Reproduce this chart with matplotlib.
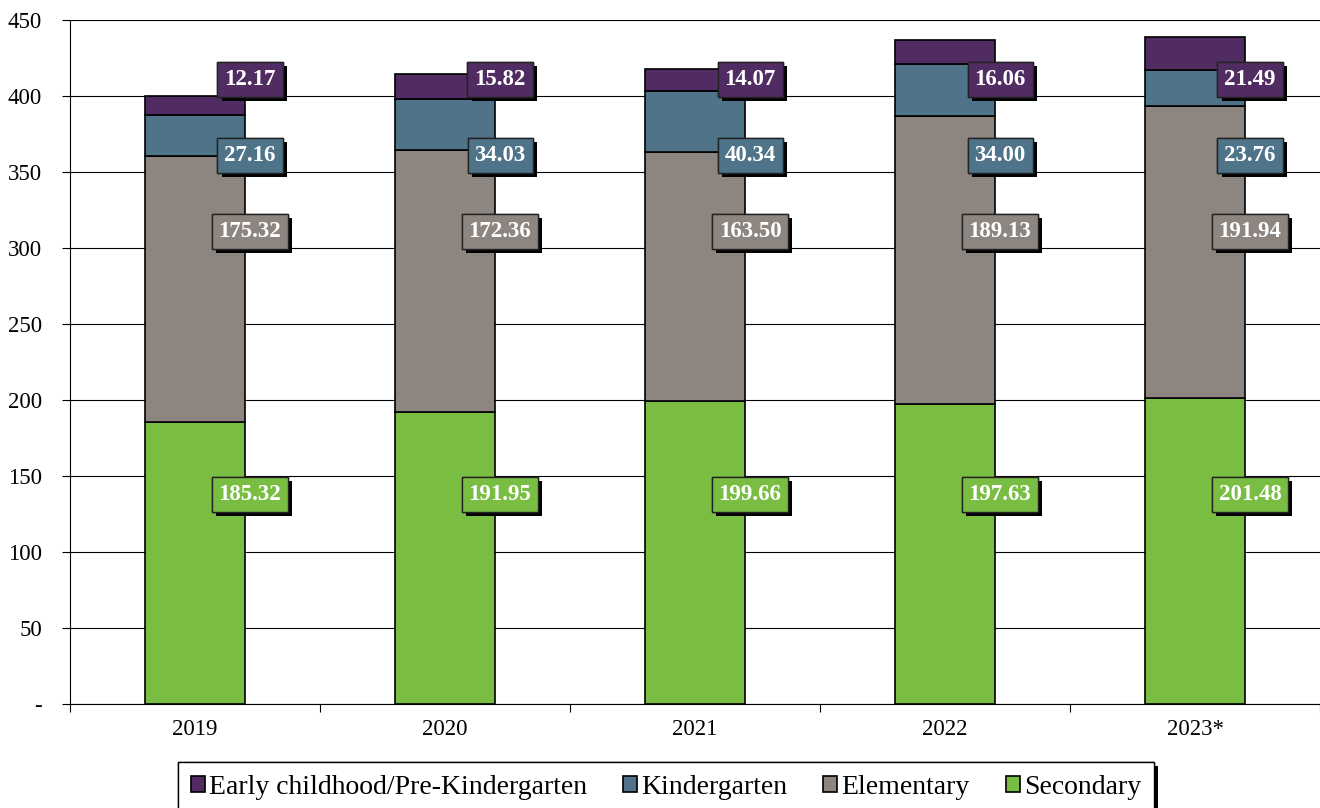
import numpy as np
import matplotlib
matplotlib.use('Agg')
import matplotlib.pyplot as plt
import matplotlib.patheffects as pe

years = ['2019', '2020', '2021', '2022', '2023*']
secondary = [185.32, 191.95, 199.66, 197.63, 201.48]
elementary = [175.32, 172.36, 163.50, 189.13, 191.94]
kindergarten = [27.16, 34.03, 40.34, 34.00, 23.76]
early = [12.17, 15.82, 14.07, 16.06, 21.49]

plt.rcParams['font.family'] = ['Liberation Serif', 'DejaVu Serif']

fig = plt.figure(figsize=(13.2, 8.08), dpi=100)
ax = fig.add_axes([70 / 1320, 1 - 704 / 808, 1250 / 1320, 684 / 808])

x = np.arange(len(years))
series = [
    ('Secondary', secondary, '#7abd43', 138),
    ('Elementary', elementary, '#8d8580', 311),
    ('Kindergarten', kindergarten, '#4f7489', 361),
    ('Early childhood/Pre-Kindergarten', early, '#512c62', 411),
]

bottom = np.zeros(len(years))
handles = {}
for name, vals, col, label_y in series:
    vals = np.array(vals)
    b = ax.bar(x, vals, 0.4, bottom=bottom, color=col, edgecolor='black', linewidth=1.2, zorder=3, label=name)
    handles[name] = b
    for i, v in enumerate(vals):
        t = ax.text(x[i] + 0.22, label_y, f'{v:.2f}', color='white', fontsize=16.5, fontweight='bold',
                    ha='center', va='center', zorder=5,
                    bbox=dict(boxstyle='square,pad=0.3', facecolor=col, edgecolor='#222222', linewidth=1))
        t.get_bbox_patch().set_path_effects([
            pe.withSimplePatchShadow(offset=(3, -3), shadow_rgbFace='black', alpha=1),
            pe.Normal()])
    bottom += vals

ax.set_xlim(-0.5, len(years) - 0.5)
ax.set_ylim(0, 450)
ax.set_yticks(np.arange(0, 451, 50))
ax.set_yticklabels(['-'] + [str(v) for v in range(50, 451, 50)], fontsize=16.5)
ax.yaxis.grid(True, color='black', linewidth=0.8, zorder=0)
ax.set_axisbelow(True)

ax.set_xticks(x)
ax.set_xticklabels(years, fontsize=16.5)
ax.tick_params(axis='x', length=0, pad=11)
ax.set_xticks(np.arange(-0.5, len(years)), minor=True)
ax.tick_params(axis='x', which='minor', length=6, width=0.8)
ax.tick_params(axis='y', length=6, width=0.8, pad=14)

for s in ['top', 'right']:
    ax.spines[s].set_visible(False)
ax.spines['left'].set_linewidth(0.8)
ax.spines['bottom'].set_linewidth(0.8)

order = ['Early childhood/Pre-Kindergarten', 'Kindergarten', 'Elementary', 'Secondary']
leg = fig.legend([handles[n] for n in order], order, loc='upper center', bbox_to_anchor=(666 / 1320, 1 - 762 / 808),
                 ncol=4, fontsize=20, frameon=True, fancybox=False, edgecolor='black', shadow=False,
                 framealpha=1, handlelength=0.5, handleheight=0.5, handletextpad=0.15, columnspacing=1.3,
                 borderpad=0.45, borderaxespad=0)
leg.get_frame().set_linewidth(1)
leg.get_frame().set_path_effects([
    pe.withSimplePatchShadow(offset=(3, -3), shadow_rgbFace='black', alpha=1),
    pe.Normal()])

fig.savefig('out.png', dpi=100)
